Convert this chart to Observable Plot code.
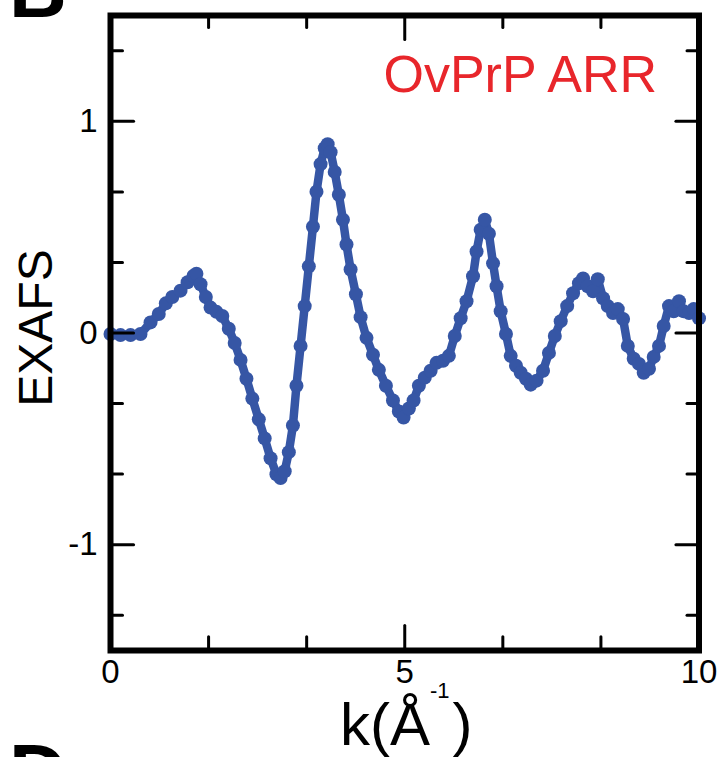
<!DOCTYPE html>
<html><head><meta charset="utf-8">
<script src="https://cdn.jsdelivr.net/npm/d3@7"></script>
<script src="https://cdn.jsdelivr.net/npm/@observablehq/plot@0.6"></script>
<style>html,body{margin:0;padding:0;background:#fff;overflow:hidden}</style>
</head><body><div id="chart"></div>
<script>
const kValues = [0.00,0.17,0.34,0.51,0.68,0.82,0.94,1.05,1.19,1.31,
1.41,1.46,1.53,1.62,1.70,1.80,1.90,2.01,2.11,2.21,
2.31,2.41,2.52,2.62,2.72,2.82,2.89,2.96,3.03,3.10,
3.16,3.23,3.30,3.37,3.44,3.50,3.57,3.64,3.69,3.74,
3.81,3.88,3.95,4.01,4.08,4.17,4.25,4.35,4.46,4.56,
4.68,4.80,4.90,4.98,5.07,5.15,5.24,5.34,5.44,5.54,
5.65,5.75,5.85,5.95,6.05,6.16,6.22,6.29,6.36,6.43,
6.50,6.56,6.63,6.72,6.80,6.89,6.97,7.06,7.14,7.24,
7.35,7.45,7.55,7.65,7.76,7.86,7.96,8.03,8.11,8.20,
8.28,8.37,8.45,8.54,8.62,8.71,8.79,8.89,8.98,9.06,
9.15,9.23,9.32,9.40,9.49,9.57,9.66,9.74,9.83,9.91,
10.00];
const exafsValues = [-0.005,-0.01,-0.01,-0.005,0.05,0.09,0.14,0.17,0.20,0.24,
0.27,0.28,0.23,0.17,0.12,0.10,0.08,0.02,-0.047,-0.127,
-0.216,-0.310,-0.408,-0.498,-0.592,-0.667,-0.685,-0.653,-0.563,-0.437,
-0.249,-0.061,0.127,0.315,0.502,0.667,0.798,0.873,0.892,0.854,
0.761,0.653,0.535,0.418,0.300,0.183,0.075,-0.023,-0.103,-0.174,
-0.249,-0.319,-0.371,-0.399,-0.357,-0.319,-0.249,-0.211,-0.178,-0.141,
-0.131,-0.108,-0.014,0.070,0.150,0.268,0.385,0.488,0.535,0.469,
0.329,0.221,0.103,-0.005,-0.108,-0.155,-0.188,-0.216,-0.244,-0.225,
-0.178,-0.094,-0.014,0.056,0.127,0.188,0.235,0.258,0.221,0.197,
0.254,0.164,0.127,0.094,0.113,0.066,-0.061,-0.122,-0.146,-0.188,
-0.169,-0.113,-0.061,0.033,0.127,0.103,0.150,0.103,0.094,0.113,
0.070];
const xTicks = [0, 5/3, 10/3, 5, 20/3, 25/3, 10];
const xTickLabels = [0, 5, 10];
const yTicks = [-4/3, -1, -2/3, -1/3, 0, 1/3, 2/3, 1, 4/3];
const yTickLabels = [-1, 0, 1];
const sampleLabel = "OvPrP ARR";
const yLabel = "EXAFS";

const blue = "#3656a5";
const red = "#e8262b";
const font = "'Liberation Sans', Arial, Helvetica, sans-serif";
const data = kValues.map((k, i) => ({k, chi: exafsValues[i]}));
const tickShape = {draw(ctx, l) { ctx.moveTo(0, 0); ctx.lineTo(0, -l); }};
const isMajorX = d => xTickLabels.some(v => Math.abs(v - d) < 1e-9) && d > 0 && d < 10;
const isMajorY = d => yTickLabels.some(v => Math.abs(v - d) < 1e-9);
const xt = xTicks.filter(d => d > 0 && d < 10);

const chart = Plot.plot({
  width: 720, height: 757,
  marginLeft: 110, marginRight: 21.5, marginTop: 15, marginBottom: 107,
  style: {fontFamily: font, background: "white", color: "black"},
  x: {domain: [0, 10]},
  y: {domain: [-1.5, 1.5]},
  marks: [
    Plot.line(data, {x: "k", y: "chi", stroke: blue, strokeWidth: 8.5, strokeLinejoin: "round", strokeLinecap: "round"}),
    Plot.dot(data, {x: "k", y: "chi", r: 7, fill: blue}),
    // inward ticks
    Plot.vector(xt, {x: d => d, y: -1.5, rotate: 0, anchor: "start", length: d => isMajorX(d) ? 27 : 15, shape: tickShape, stroke: "black", strokeWidth: 3}),
    Plot.vector(xt, {x: d => d, y: 1.5, rotate: 180, anchor: "start", length: d => isMajorX(d) ? 26 : 13, shape: tickShape, stroke: "black", strokeWidth: 3}),
    Plot.vector(yTicks, {x: 0, y: d => d, rotate: 90, anchor: "start", length: d => isMajorY(d) ? 25 : 13, shape: tickShape, stroke: "black", strokeWidth: 3}),
    Plot.vector(yTicks, {x: 10, y: d => d, rotate: -90, anchor: "start", length: d => isMajorY(d) ? 25 : 13, shape: tickShape, stroke: "black", strokeWidth: 3}),
    Plot.frame({stroke: "black", strokeWidth: 6}),
    Plot.axisX(xTickLabels, {tickSize: 0, tickPadding: 9, fontSize: 33, label: null, tickFormat: d => String(d)}),
    Plot.axisY(yTickLabels, {tickSize: 0, tickPadding: 13, fontSize: 33, label: null, tickFormat: d => d < 0 ? "-" + Math.abs(d) : String(d)}),
    Plot.text([sampleLabel], {frameAnchor: "top-right", dx: -42, dy: 40, lineAnchor: "top", textAnchor: "end", fontSize: 52, fill: red, text: d => d})
  ]
});
document.getElementById("chart").appendChild(chart);

const svg = d3.select(chart);
svg.append("text").attr("x", 52).attr("y", 328)
  .attr("transform", "rotate(-90, 52, 328)")
  .attr("text-anchor", "middle").attr("font-size", 48).attr("font-family", font)
  .attr("fill", "black").text(yLabel);
const lab = svg.append("text").attr("x", 340).attr("y", 745)
  .attr("text-anchor", "start")
  .attr("font-size", 60).attr("font-family", font).attr("fill", "black");
lab.append("tspan").text("k(Å");
lab.append("tspan").attr("font-size", 22).attr("dy", -47).attr("dx", 0).text("-1");
lab.append("tspan").attr("dy", 47).attr("dx", 3).text(")");
svg.append("text").attr("x", 9).attr("y", 17).attr("text-anchor", "start").attr("font-size", 80).attr("font-weight", "bold")
  .attr("font-family", font).attr("fill", "black").text("B");
svg.append("text").attr("x", 9).attr("y", 800).attr("text-anchor", "start").attr("font-size", 80).attr("font-weight", "bold")
  .attr("font-family", font).attr("fill", "black").text("D");
</script>
</body></html>
